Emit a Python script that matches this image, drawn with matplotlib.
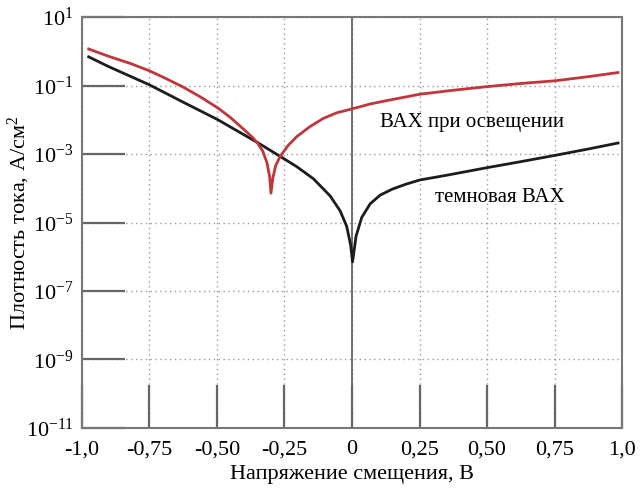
import matplotlib
matplotlib.use("Agg")
import matplotlib.pyplot as plt
from matplotlib.ticker import FixedLocator, NullLocator

plt.rcParams['font.family'] = 'Liberation Serif'
plt.rcParams['mathtext.fontset'] = 'custom'
plt.rcParams['mathtext.rm'] = 'Liberation Serif'
plt.rcParams['mathtext.it'] = 'Liberation Serif:italic'
plt.rcParams['axes.unicode_minus'] = False

# dark I-V curve
v_dark = [-0.975, -0.9, -0.75, -0.626, -0.496, -0.452, -0.347, -0.259, -0.205, -0.143,
          -0.081, -0.044, -0.02, -0.005, 0.002, 0.015, 0.036, 0.067, 0.104, 0.15,
          0.2, 0.25, 0.35, 0.5, 0.62, 0.75, 0.87, 0.985]
j_dark = [0.69, 0.355, 0.105, 0.033, 0.010, 6.3e-3, 2.1e-3, 7.9e-4, 4.3e-4, 1.9e-4,
          6.0e-5, 2.2e-5, 7.9e-6, 2.2e-6, 7.1e-7, 4.0e-6, 1.41e-5, 3.5e-5, 6.3e-5, 9.5e-5,
          1.32e-4, 1.74e-4, 2.4e-4, 4.0e-4, 5.9e-4, 9.1e-4, 1.38e-3, 2.1e-3]

# illuminated I-V curve
v_light = [-0.975, -0.9, -0.82, -0.75, -0.69, -0.626, -0.56, -0.496, -0.452, -0.4,
           -0.367, -0.348, -0.33, -0.315, -0.305, -0.3, -0.293, -0.283, -0.267, -0.236,
           -0.205, -0.156, -0.106, -0.057, 0.002, 0.067, 0.141, 0.252, 0.375, 0.5,
           0.625, 0.752, 0.87, 0.985]
j_light = [1.17, 0.71, 0.44, 0.27, 0.162, 0.091, 0.046, 0.022, 0.012, 5.2e-3,
           3.0e-3, 2.0e-3, 1.2e-3, 5.6e-4, 2.2e-4, 7.2e-5, 2.0e-4, 4.5e-4, 8.3e-4, 1.8e-3,
           3.2e-3, 6.3e-3, 0.011, 0.016, 0.021, 0.029, 0.038, 0.056, 0.073, 0.093,
           0.115, 0.138, 0.18, 0.24]

x_ticks = [-1.0, -0.75, -0.5, -0.25, 0.0, 0.25, 0.5, 0.75, 1.0]
x_labels = ['-1,0', '-0,75', '-0,50', '-0,25', '0', '0,25', '0,50', '0,75', '1,0']
y_ticks = [1e1, 1e-1, 1e-3, 1e-5, 1e-7, 1e-9, 1e-11]
y_labels = ['$10^{1}$', '$10^{-1}$', '$10^{-3}$', '$10^{-5}$', '$10^{-7}$', '$10^{-9}$', '$10^{-11}$']

fig = plt.figure(figsize=(6.4, 4.88), dpi=100)
ax = fig.add_axes([0.128, 0.123, 0.844, 0.842])

ax.set_yscale('log')
ax.set_xlim(-1.0, 1.0)
ax.set_ylim(1e-11, 1e1)

ax.grid(True, which='major', linestyle=(0, (1, 2.5)), color='#999999', linewidth=1.0)
ax.axvline(0, color='#666666', linewidth=1.3, zorder=2)

ax.plot(v_dark, j_dark, color='#1c1c1c', linewidth=2.0, zorder=3)
ax.plot(v_light, j_light, color='#c0363a', linewidth=2.0, zorder=3)

ax.xaxis.set_major_locator(FixedLocator(x_ticks))
ax.set_xticklabels(x_labels)
ax.yaxis.set_major_locator(FixedLocator(y_ticks))
ax.yaxis.set_minor_locator(NullLocator())
ax.set_yticklabels(y_labels)

ax.tick_params(axis='both', direction='in', length=31, width=1.6, color='#666666',
               labelsize=16)
ax.tick_params(axis='x', pad=9)
ax.tick_params(axis='y', pad=6)

for sp in ax.spines.values():
    sp.set_color('#777777')
    sp.set_linewidth(1.5)

ax.text(0.104, 8.5e-3, 'ВАХ при освещении', fontsize=15, va='center', ha='left')
ax.text(0.307, 5.5e-5, 'темновая ВАХ', fontsize=15, va='center', ha='left')

ax.set_xlabel('Напряжение смещения, В', fontsize=16)
ax.set_ylabel('Плотность тока, А/см$^2$', fontsize=16)
ax.xaxis.set_label_coords(0.5, -0.09)
ax.yaxis.set_label_coords(-0.092, 0.5)

fig.savefig('out.png', dpi=100)
